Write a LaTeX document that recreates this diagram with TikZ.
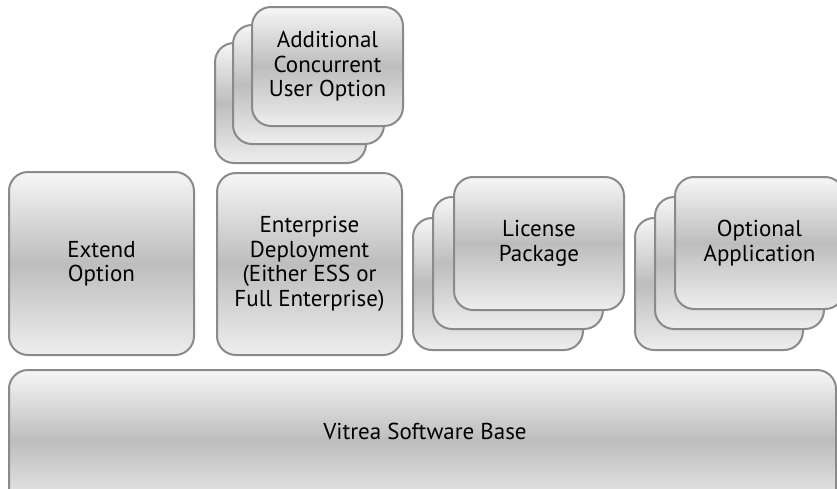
\documentclass[tikz,border=0pt]{standalone}
\usepackage{fontspec}
\setmainfont{PT Sans}
\definecolor{edgegray}{HTML}{8A8A8A}
\definecolor{toplight}{HTML}{F6F6F6}
\definecolor{middark}{HTML}{BDBDBD}
\definecolor{botlight}{HTML}{EEEEEE}
\tikzset{
  card/.style={draw=edgegray, line width=2pt, rounded corners=19pt,
    top color=toplight, bottom color=botlight, middle color=middark,
    align=center, inner sep=0pt, text=black,
    font=\fontsize{23}{24.5}\selectfont},
}
\newcommand{\cardat}[6]{% name, x1, y1, x2, y2, text
  \node[card, minimum width={(#4)-(#2)}, minimum height={(#5)-(#3)}]
    (#1) at ({((#2)+(#4))/2},{((#3)+(#5))/2}) {#6};}
\begin{document}
\begin{tikzpicture}[x=1pt,y=-1pt]
\useasboundingbox (0,0) rectangle (837,488);
\clip (0,0) rectangle (837,488);
% base
\cardat{base}{9}{370}{836}{510}{}
\node[font=\fontsize{23}{24.5}\selectfont] (basetext) at (425,431) {Vitrea Software Base};
% Extend
\cardat{extend}{9}{172}{194}{355}{Extend\\Option}
% Enterprise
\cardat{enterprise}{217}{173}{402}{355}{Enterprise\\Deployment\\(Either ESS or\\Full Enterprise)}
% ACU stack
\cardat{acuback}{215}{43}{366}{163}{}
\cardat{acumid}{233}{25}{384}{144}{}
\cardat{acufront}{252}{7}{403}{126}{Additional\\Concurrent\\User Option}
% License stack
\cardat{licback}{413}{218}{583}{350}{}
\cardat{licmid}{433}{197}{603}{329}{}
\cardat{licfront}{454}{177}{624}{310}{License\\Package}
% Optional stack
\cardat{optback}{635}{218}{803}{350}{}
\cardat{optmid}{655}{197}{824}{329}{}
\cardat{optfront}{675}{177}{844}{309}{Optional\\Application}
\end{tikzpicture}
\end{document}
